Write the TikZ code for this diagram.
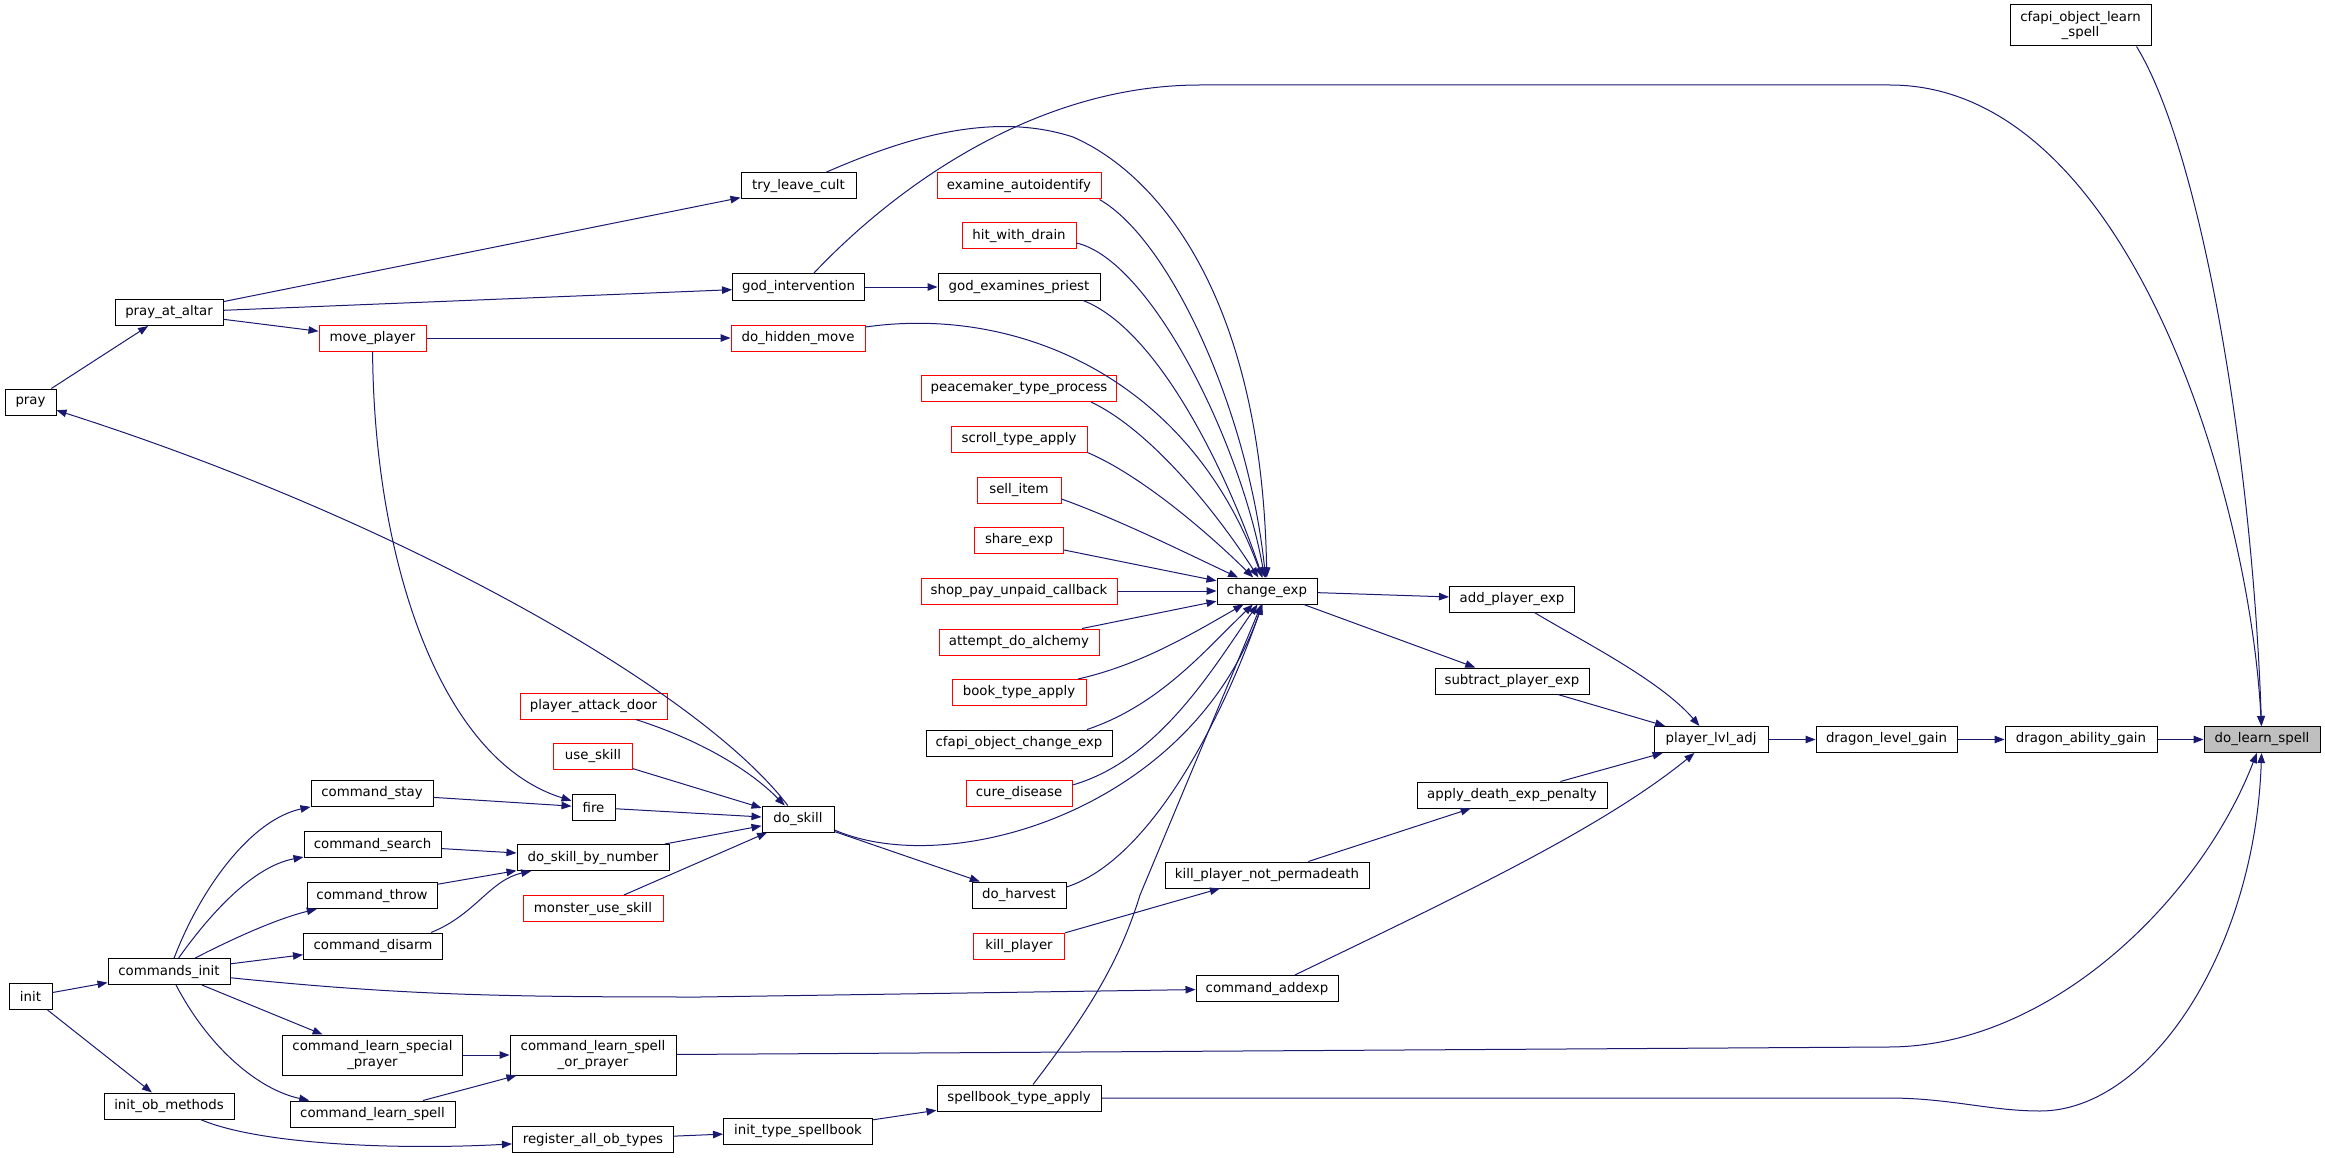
\documentclass[tikz,border=0pt]{standalone}
\usepackage{fontspec}
\setmainfont{DejaVu Sans}
\usetikzlibrary{arrows.meta}
\definecolor{edgeblue}{HTML}{191970}
\definecolor{nodegrey}{HTML}{BFBFBF}
\definecolor{nodered}{HTML}{FF0000}
\begin{document}
\begin{tikzpicture}[x=1pt,y=-1pt,
  box/.style={draw=black, fill=white, line width=1pt, inner sep=0pt, minimum height=26pt, text=black, font=\fontsize{13.33}{15.7}\selectfont},
  rbox/.style={box, draw=nodered},
  gbox/.style={box, fill=nodegrey},
  conn/.style={draw=edgeblue, line width=1pt, -{Triangle[length=10pt,width=7.5pt]}}]
\useasboundingbox (0,0) rectangle (2325,1158);
% nodes
\node[box, minimum width=51pt] (pray) at (30.5,402) {pray};
\node[box, minimum width=108pt] (altar) at (169,312.5) {pray\_at\_altar};
\node[rbox, minimum width=107pt] (moveP) at (372.5,338) {move\_player};
\node[box, minimum width=115pt] (tlc) at (798.5,186) {try\_leave\_cult};
\node[box, minimum width=132pt] (godI) at (798.5,287) {god\_intervention};
\node[rbox, minimum width=134pt] (dhm) at (798,338) {do\_hidden\_move};
\node[rbox, minimum width=164pt] (exa) at (1019,186) {examine\_autoidentify};
\node[rbox, minimum width=114pt] (hwd) at (1019,236) {hit\_with\_drain};
\node[box, minimum width=162pt] (gep) at (1019,287) {god\_examines\_priest};
\node[rbox, minimum width=195pt] (pmk) at (1019,388.5) {peacemaker\_type\_process};
\node[rbox, minimum width=136pt] (sta) at (1019,439) {scroll\_type\_apply};
\node[rbox, minimum width=84pt] (sell) at (1019,490) {sell\_item};
\node[rbox, minimum width=89pt] (share) at (1019,540.5) {share\_exp};
\node[rbox, minimum width=196pt] (shop) at (1019,591) {shop\_pay\_unpaid\_callback};
\node[rbox, minimum width=160pt] (alch) at (1019,642) {attempt\_do\_alchemy};
\node[rbox, minimum width=134pt] (book) at (1019,692.5) {book\_type\_apply};
\node[box, minimum width=186pt] (cfce) at (1019,743) {cfapi\_object\_change\_exp};
\node[rbox, minimum width=106pt] (cure) at (1019,793.5) {cure\_disease};
\node[box, minimum width=94pt] (harv) at (1019,895) {do\_harvest};
\node[rbox, minimum width=91pt] (killp) at (1019,946) {kill\_player};
\node[box, minimum width=164pt] (sba) at (1019,1098) {spellbook\_type\_apply};
\node[box, minimum width=100pt] (cexp) at (1267,591) {change\_exp};
\node[box, minimum width=204pt] (kpnp) at (1267,875) {kill\_player\_not\_permadeath};
\node[box, minimum width=142pt] (cadd) at (1267,988.5) {command\_addexp};
\node[box, minimum width=125pt] (addx) at (1512,599) {add\_player\_exp};
\node[box, minimum width=154pt] (subx) at (1512,681) {subtract\_player\_exp};
\node[box, minimum width=190pt] (adep) at (1512,795) {apply\_death\_exp\_penalty};
\node[box, minimum width=114pt] (plvl) at (1711,739.5) {player\_lvl\_adj};
\node[box, minimum width=141pt] (dlg) at (1886.5,739.5) {dragon\_level\_gain};
\node[box, minimum width=152pt] (dag) at (2081,739.5) {dragon\_ability\_gain};
\node[gbox, minimum width=116pt] (dls) at (2262,739.5) {do\_learn\_spell};
\node[box, minimum width=141pt, minimum height=41pt, align=center] (cols) at (2080.5,25.5) {cfapi\_object\_learn\\\_spell};
\node[rbox, minimum width=147pt] (pad) at (593.5,706) {player\_attack\_door};
\node[rbox, minimum width=79pt] (uses) at (593,756.5) {use\_skill};
\node[box, minimum width=43pt] (fire) at (593.5,807.5) {fire};
\node[box, minimum width=152pt] (dsbn) at (593,857.5) {do\_skill\_by\_number};
\node[rbox, minimum width=140pt] (mus) at (593,908.5) {monster\_use\_skill};
\node[box, minimum width=166pt, minimum height=40pt, align=center] (clsp) at (593,1055) {command\_learn\_spell\\\_or\_prayer};
\node[box, minimum width=161pt] (raot) at (593,1139.5) {register\_all\_ob\_types};
\node[box, minimum width=72pt] (dskill) at (798,819) {do\_skill};
\node[box, minimum width=149pt] (its) at (798,1131) {init\_type\_spellbook};
\node[box, minimum width=122pt] (cstay) at (372,793.5) {command\_stay};
\node[box, minimum width=137pt] (csearch) at (372.5,844.5) {command\_search};
\node[box, minimum width=130pt] (cthrow) at (372,895.5) {command\_throw};
\node[box, minimum width=139pt] (cdisarm) at (373,946) {command\_disarm};
\node[box, minimum width=180pt, minimum height=40pt, align=center] (clspecial) at (372.5,1055) {command\_learn\_special\\\_prayer};
\node[box, minimum width=165pt] (clspell) at (372.5,1114) {command\_learn\_spell};
\node[box, minimum width=122pt] (cinit) at (169,971.5) {commands\_init};
\node[box, minimum width=43pt] (init) at (30.5,996.5) {init};
\node[box, minimum width=130pt] (iom) at (169,1106) {init\_ob\_methods};
% edges
\draw[conn] (pray) -- (altar);
\draw[conn] (altar) -- (tlc);
\draw[conn] (altar) -- (godI);
\draw[conn] (altar) -- (moveP);
\draw[conn] (moveP) -- (dhm);
\draw[conn] (moveP) .. controls (374,560) and (440,760) .. (fire);
\draw[conn] (dskill) .. controls (700,690) and (400,520) .. (pray);
\draw[conn] (godI) -- (gep);
\draw[conn] ([xshift=15pt]godI.north) .. controls (900,182) and (1040,85) .. (1200,85) -- (1890,85) .. controls (2130,85) and (2250,500) .. (dls);
\draw[conn] ([xshift=56pt]cols.south) .. controls (2200,150) and (2252,450) .. (dls);
\draw[conn] ([xshift=27pt]tlc.north) .. controls (900,140) and (990,110) .. (1073,137) .. controls (1160,175) and (1262,300) .. (cexp);
\draw[conn] ([xshift=-2pt]exa.south east) .. controls (1170,240) and (1248,410) .. (cexp);
\draw[conn] ([yshift=-7pt]hwd.east) .. controls (1150,260) and (1240,440) .. (cexp);
\draw[conn] ([xshift=64pt]gep.south) .. controls (1160,330) and (1230,480) .. (cexp);
\draw[conn] ([yshift=11pt]dhm.east) .. controls (1020,305) and (1190,380) .. (cexp);
\draw[conn] ([xshift=72pt]pmk.south) .. controls (1150,430) and (1215,510) .. (cexp);
\draw[conn] (sta.south east) .. controls (1140,475) and (1205,530) .. (cexp);
\draw[conn] ([yshift=-9pt]sell.east) .. controls (1120,520) and (1190,555) .. (cexp);
\draw[conn] ([yshift=-9.5pt]share.east) -- (cexp);
\draw[conn] (shop) -- (cexp);
\draw[conn] ([xshift=63pt]alch.north) -- (cexp);
\draw[conn] ([xshift=59pt]book.north) .. controls (1140,665) and (1190,635) .. (cexp);
\draw[conn] ([xshift=68pt]cfce.north) .. controls (1160,705) and (1205,650) .. (cexp);
\draw[conn] ([yshift=8.5pt]cure.east) .. controls (1160,760) and (1215,665) .. (cexp);
\draw[conn] ([yshift=-11pt]dskill.east) .. controls (950,880) and (1190,810) .. (cexp);
\draw[conn] ([yshift=8pt]harv.east) .. controls (1150,860) and (1222,720) .. (cexp);
\draw[conn] ([xshift=14pt]sba.north) .. controls (1090,1010) and (1120,960) .. (1140,895) -- (cexp);
\draw[conn] (cexp) -- (addx);
\draw[conn] (cexp) -- (subx);
\draw[conn] (addx) .. controls (1580,640) and (1660,680) .. (plvl);
\draw[conn] (subx) -- (plvl);
\draw[conn] (adep) -- (plvl);
\draw[conn] (cadd) .. controls (1450,900) and (1600,830) .. (plvl);
\draw[conn] (plvl) -- (dlg);
\draw[conn] (dlg) -- (dag);
\draw[conn] (dag) -- (dls);
\draw[conn] (clsp) -- (1888,1047) .. controls (2050,1047) and (2200,900) .. (dls);
\draw[conn] (sba) -- (1888,1098) .. controls (1950,1098) and (1990,1111) .. (2040,1111) .. controls (2150,1111) and (2255,950) .. (dls);
\draw[conn] (kpnp) -- (adep);
\draw[conn] (killp) -- (kpnp);
\draw[conn] (cinit) .. controls (400,995) and (500,997) .. (700,997) -- (cadd);
\draw[conn] (dskill) -- (harv);
\draw[conn] (pad) .. controls (700,740) and (750,770) .. (dskill);
\draw[conn] (uses) -- (dskill);
\draw[conn] (fire) -- (dskill);
\draw[conn] (dsbn) -- (dskill);
\draw[conn] (mus) -- (dskill);
\draw[conn] (cstay) -- (fire);
\draw[conn] (csearch) -- (dsbn);
\draw[conn] (cthrow) -- (dsbn);
\draw[conn] ([xshift=58pt]cdisarm.north) .. controls (475,915) and (490,880) .. (dsbn);
\draw[conn] (cinit) .. controls (200,890) and (250,820) .. (cstay);
\draw[conn] (cinit) .. controls (220,900) and (260,865) .. (csearch);
\draw[conn] (cinit) .. controls (240,935) and (280,918) .. (cthrow);
\draw[conn] (cinit) -- (cdisarm);
\draw[conn] (cinit) -- (clspecial);
\draw[conn] (cinit) .. controls (210,1050) and (260,1090) .. (clspell);
\draw[conn] (clspecial) -- (clsp);
\draw[conn] (clspell) -- (clsp);
\draw[conn] (init) -- (cinit);
\draw[conn] (init) -- (iom);
\draw[conn] (iom) .. controls (260,1145) and (400,1150) .. (raot);
\draw[conn] (raot) -- (its);
\draw[conn] (its) -- (sba);
\end{tikzpicture}
\end{document}
